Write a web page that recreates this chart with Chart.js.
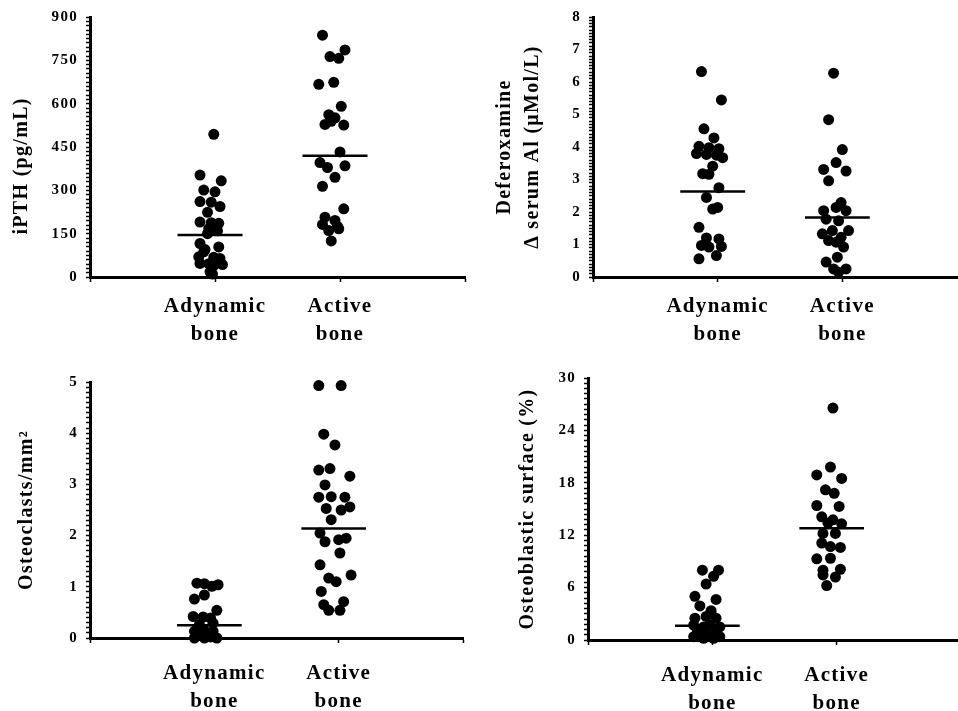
<!DOCTYPE html>
<html lang="en">
<head>
    <meta charset="UTF-8">
    <title>Adynamic vs active bone</title>
    <script src="https://cdn.jsdelivr.net/npm/chart.js"></script>
    <style>
        body {
            margin: 0;
            background: #fff;
            width: 958px;
            height: 711px;
            overflow: hidden;
            position: relative;
        }
        canvas {
            position: absolute;
        }
    </style>
</head>
<body>
    <canvas id="pth" width="480" height="355" style="left:0;top:0"></canvas>
    <canvas id="al" width="500" height="355" style="left:478px;top:0"></canvas>
    <canvas id="oc" width="480" height="351" style="left:0;top:360px"></canvas>
    <canvas id="ob" width="500" height="351" style="left:478px;top:360px"></canvas>

    <script>
        const groupLabels = [['Adynamic', 'bone'], ['Active', 'bone']];

        // iPTH (pg/mL)
        const pthTicks = [0, 150, 300, 450, 600, 750, 900];
        const pthAdy = [494, 353, 333, 301, 295, 261, 259, 244, 224, 190, 188, 186, 167, 160, 150, 116, 104, 95, 87, 70, 68, 64, 47, 46, 43, 40, 18, 10];
        const pthAdyJit = [-0.01, -0.12, 0.05, -0.09, 0, -0.12, -0.03, 0.04, -0.06, -0.12, -0.03, 0.03, -0.05, 0.02, -0.06, -0.12, 0.03, -0.08, -0.09, -0.13, -0.01, 0.04, -0.12, -0.05, 0.06, -0.01, -0.04, -0.02];
        const pthAct = [837, 786, 763, 757, 667, 674, 591, 562, 551, 539, 528, 526, 433, 396, 385, 379, 345, 314, 236, 207, 196, 182, 175, 167, 161, 125];
        const pthActJit = [-0.14, 0.04, -0.08, -0.01, -0.17, -0.05, 0.01, -0.09, -0.04, -0.07, -0.12, 0.03, 0, -0.16, 0.04, -0.10, -0.04, -0.14, 0.03, -0.12, -0.04, -0.14, -0.02, -0.01, -0.09, -0.07];
        const pthMedian = [145, 420];

        // Deferoxamine delta serum Al
        const alTicks = [0, 1, 2, 3, 4, 5, 6, 7, 8];
        const alAdy = [6.32, 5.45, 4.56, 4.28, 4.02, 3.98, 3.95, 3.8, 3.77, 3.75, 3.67, 3.41, 3.18, 3.16, 2.75, 2.45, 2.14, 2.09, 1.53, 1.2, 1.17, 0.97, 0.94, 0.92, 0.66, 0.56];
        const alAdyJit = [-0.13, 0.03, -0.11, -0.03, -0.15, -0.07, 0.01, -0.17, -0.09, -0.01, 0.04, -0.04, -0.12, -0.07, 0.01, -0.09, 0, -0.04, -0.15, -0.09, 0.01, -0.13, 0.03, -0.07, -0.01, -0.15];
        const alAct = [6.27, 4.84, 3.92, 3.52, 3.31, 3.26, 2.96, 2.29, 2.14, 2.04, 2.04, 1.78, 1.73, 1.43, 1.43, 1.33, 1.22, 1.12, 1.07, 0.92, 0.61, 0.46, 0.25, 0.25, 0.15];
        const alActJit = [-0.07, -0.11, 0, -0.05, -0.15, 0.03, -0.11, -0.01, -0.05, -0.15, 0.03, -0.13, -0.03, 0.05, -0.08, -0.16, -0.01, -0.11, -0.05, 0.01, -0.04, -0.13, -0.07, 0.03, -0.03];
        const alMedian = [2.63, 1.83];

        // Osteoclasts/mm2
        const ocTicks = [0, 1, 2, 3, 4, 5];
        const ocAdy = [1.07, 1.06, 1.01, 1.04, 0.84, 0.76, 0.54, 0.42, 0.41, 0.39, 0.29, 0.26, 0.15, 0.13, 0.13, 0.05, 0.02, 0, 0, 0];
        const ocAdyJit = [-0.14, -0.08, -0.02, 0.03, -0.08, -0.16, 0.02, -0.17, -0.09, -0.03, -0.01, -0.12, -0.08, -0.16, -0.01, -0.12, -0.03, 0.02, -0.16, -0.08];
        const ocAct = [4.93, 4.93, 3.98, 3.77, 3.28, 3.31, 3.16, 2.99, 2.75, 2.76, 2.75, 2.53, 2.56, 2.5, 2.31, 2.05, 1.88, 1.92, 1.95, 1.66, 1.43, 1.17, 1.1, 1.23, 0.91, 0.65, 0.71, 0.54, 0.54];
        const ocActJit = [-0.16, 0.02, -0.12, -0.03, -0.16, -0.07, 0.09, -0.11, -0.16, -0.06, 0.05, -0.1, 0.09, 0.02, -0.06, -0.15, -0.11, 0, 0.06, 0.01, -0.15, -0.08, -0.02, 0.1, -0.14, -0.12, 0.04, -0.08, 0.01];
        const ocMedian = [0.25, 2.14];

        // Osteoblastic surface (%)
        const obTicks = [0, 6, 12, 18, 24, 30];
        const obAdy = [8.0, 8.0, 7.3, 6.4, 5.0, 4.65, 3.9, 3.36, 2.7, 2.5, 2.5, 1.7, 1.5, 1.7, 1.5, 0.95, 0.76, 0.95, 0.38, 0.2, 0.2, 0.38];
        const obAdyJit = [-0.08, 0.05, 0.01, -0.05, -0.14, 0.03, -0.1, -0.01, -0.05, -0.14, 0.03, -0.15, -0.07, -0.02, 0.06, -0.12, -0.05, 0.03, -0.15, -0.07, 0.01, 0.06];
        const obAct = [26.56, 19.8, 18.9, 18.5, 17.2, 16.8, 15.4, 15.3, 14.1, 13.76, 13.4, 13.3, 12.2, 12.2, 11.1, 10.7, 10.6, 9.3, 9.36, 8.0, 8.1, 7.45, 7.2, 6.23];
        const obActJit = [-0.03, -0.05, -0.16, 0.04, -0.09, -0.02, -0.16, 0.02, -0.12, -0.03, -0.07, 0.04, -0.11, -0.01, -0.12, -0.05, 0.03, -0.16, -0.05, -0.11, 0.03, -0.11, -0.01, -0.08];
        const obMedian = [1.64, 12.8];

        // median bar runs a bit further left than right of each group
        const medianSpan = [-0.3, 0.22];

        const serif = 'Liberation Serif, Times New Roman, serif';

        // the original's lettering is set quite loose
        const looseText = {
            id: 'looseText',
            beforeDraw(chart) { chart.ctx.letterSpacing = '1.3px'; }
        };

        function dots(vals, jit, group) {
            return vals.map((v, i) => ({ x: group + jit[i], y: v }));
        }

        function makePanel(id, p) {
            const datasets = [
                { type: 'scatter', data: dots(p.ady, p.adyJit, 1) },
                { type: 'scatter', data: dots(p.act, p.actJit, 2) }
            ];
            p.median.forEach((m, i) => {
                datasets.push({
                    type: 'line',
                    data: [{ x: i + 1 + medianSpan[0], y: m }, { x: i + 1 + medianSpan[1], y: m }],
                    borderColor: '#000',
                    borderWidth: 2.5,
                    pointRadius: 0
                });
            });
            datasets.forEach(d => {
                d.clip = false;
                if (d.type === 'scatter') {
                    d.backgroundColor = '#000';
                    d.borderWidth = 0;
                    d.pointRadius = 5.5;
                }
            });

            new Chart(document.getElementById(id), {
                data: { datasets },
                plugins: [looseText],
                options: {
                    responsive: false,
                    animation: false,
                    layout: { padding: { top: p.top, right: p.right, left: 0, bottom: 0 } },
                    plugins: { legend: { display: false }, tooltip: { enabled: false } },
                    scales: {
                        x: {
                            type: 'linear',
                            min: 0,
                            max: 3,
                            afterFit: s => { s.height = p.xHeight; },
                            border: { color: '#000', width: 3 },
                            grid: { drawOnChartArea: false, color: '#000', tickLength: 5, tickWidth: 1.5 },
                            ticks: {
                                stepSize: 1,
                                autoSkip: false,
                                maxRotation: 0,
                                padding: p.xPad,
                                color: '#000',
                                font: { family: serif, size: 21, weight: 'bold', lineHeight: 1.33 },
                                callback: v => (v === 1 || v === 2) ? groupLabels[v - 1] : ''
                            }
                        },
                        y: {
                            type: 'linear',
                            min: 0,
                            max: p.ticks[p.ticks.length - 1],
                            afterFit: s => { s.width = p.yWidth; },
                            border: { color: '#000', width: 3 },
                            grid: { drawOnChartArea: false, color: '#000', tickLength: 4, tickWidth: 1.5 },
                            ticks: {
                                stepSize: p.minor,
                                autoSkip: false,
                                padding: 8,
                                color: '#000',
                                font: { family: serif, size: 15, weight: 'bold' },
                                callback: v => p.ticks.includes(v) ? String(v) : ''
                            },
                            title: {
                                display: true,
                                text: p.title,
                                color: '#000',
                                padding: { top: p.titlePad, bottom: 0 },
                                font: { family: serif, size: 20, weight: 'bold', lineHeight: p.titleLH || 1.2 }
                            }
                        }
                    }
                }
            });
        }

        makePanel('pth', {
            ady: pthAdy, adyJit: pthAdyJit, act: pthAct, actJit: pthActJit, median: pthMedian,
            ticks: pthTicks, minor: 15, title: 'iPTH (pg/mL)      ',
            top: 15, right: 15, yWidth: 90, xHeight: 78, titlePad: 10, xPad: 11
        });
        makePanel('al', {
            ady: alAdy, adyJit: alAdyJit, act: alAct, actJit: alActJit, median: alMedian,
            ticks: alTicks, minor: 0.1, title: ['Deferoxamine', 'Δ serum Al (μMol/L)'],
            top: 15, right: 10, yWidth: 115, xHeight: 78, titlePad: 13, titleLH: 1.4, xPad: 11
        });
        makePanel('oc', {
            ady: ocAdy, adyJit: ocAdyJit, act: ocAct, actJit: ocActJit, median: ocMedian,
            ticks: ocTicks, minor: 0.1, title: 'Osteoclasts/mm²',
            top: 22, right: 17, yWidth: 90, xHeight: 73, titlePad: 15, xPad: 17
        });
        makePanel('ob', {
            ady: obAdy, adyJit: obAdyJit, act: obAct, actJit: obActJit, median: obMedian,
            ticks: obTicks, minor: 0.6, title: 'Osteoblastic surface (%)',
            top: 18, right: 15, yWidth: 110, xHeight: 71, titlePad: 38, xPad: 17
        });
    </script>
</body>
</html>
